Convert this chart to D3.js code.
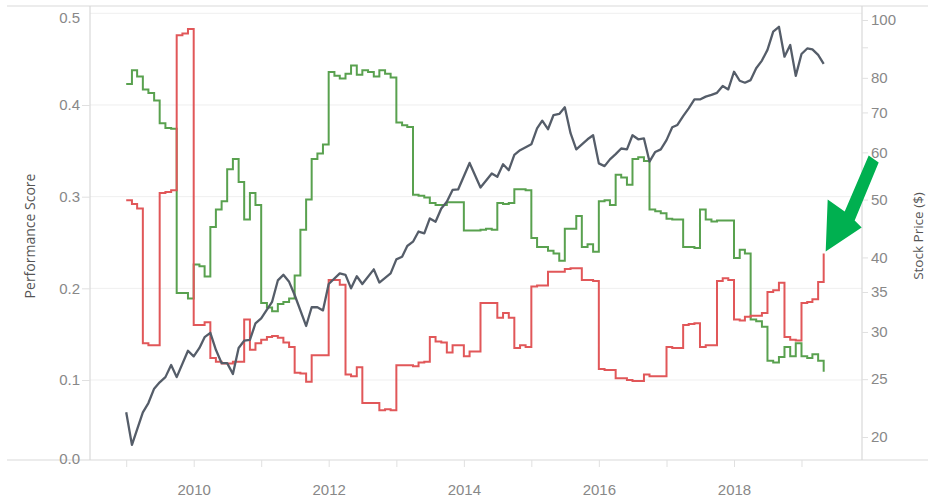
<!DOCTYPE html>
<html>
<head>
<meta charset="utf-8">
<script src="https://cdn.jsdelivr.net/npm/d3@7"></script>
<style>
  body { margin: 0; background: #fff; font-family: "Open Sans", sans-serif; }
</style>
</head>
<body>
<script>

// stock price (right axis, log scale)
const priceDates = ["2009-01","2009-02","2009-04","2009-05","2009-06","2009-07","2009-08","2009-09","2009-10","2009-12",
  "2010-01","2010-02","2010-03","2010-04","2010-05","2010-06","2010-07","2010-08","2010-09","2010-10","2010-11","2010-12",
  "2011-01","2011-02","2011-03","2011-04","2011-05","2011-06","2011-07","2011-09","2011-10","2011-11","2011-12",
  "2012-01","2012-03","2012-04","2012-05","2012-06","2012-07","2012-09","2012-10","2012-12",
  "2013-01","2013-02","2013-03","2013-04","2013-05","2013-06","2013-07","2013-08","2013-09","2013-10","2013-11","2013-12",
  "2014-02","2014-04","2014-06","2014-07","2014-08","2014-09","2014-10","2014-11",
  "2015-01","2015-02","2015-03","2015-04","2015-05","2015-06","2015-07","2015-08","2015-09","2015-11","2015-12",
  "2016-01","2016-02","2016-03","2016-04","2016-05","2016-06","2016-07","2016-08","2016-09","2016-10","2016-11","2016-12",
  "2017-01","2017-02","2017-03","2017-04","2017-05","2017-06","2017-07","2017-08","2017-09","2017-10","2017-11","2017-12",
  "2018-01","2018-02","2018-03","2018-04","2018-05","2018-06","2018-07","2018-08","2018-09","2018-10","2018-11","2018-12",
  "2019-01","2019-02","2019-03","2019-04","2019-05"];
const priceValues = [22.0,19.4,22.0,22.8,24.1,24.7,25.2,26.4,25.2,27.9,
  27.3,28.2,29.4,29.9,28.0,26.6,26.6,25.5,28.2,29.0,29.1,31.0,
  31.6,32.7,33.7,36.6,37.4,36.4,34.6,30.7,33.0,33.0,32.6,
  36.1,37.6,37.4,35.5,37.2,36.1,38.2,36.3,37.6,
  39.7,40.1,41.8,42.5,44.2,43.9,46.5,45.9,48.3,49.6,51.9,52.0,
  57.6,52.4,55.3,54.6,57.3,56.0,59.4,60.5,
  61.9,65.8,67.8,65.6,69.3,69.6,71.4,64.6,60.7,63.1,64.1,
  57.5,56.9,58.4,59.6,60.9,60.7,64.1,63.1,63.3,57.9,60.1,60.7,
  62.9,66.1,66.7,69.0,71.1,73.6,73.6,74.4,74.9,75.5,77.5,76.5,
  81.9,79.1,78.5,79.3,83.0,85.5,89.1,95.6,97.4,86.8,90.8,80.6,
  87.7,89.6,89.3,87.4,84.4];

// monthly performance scores (left axis), Jan 2009 .. May 2019
const scoreStart = "2009-01";
const redScores = [.296,.292,.287,.140,.138,.138,.304,.305,.307,.476,.478,.483,
  .160,.160,.163,.124,.120,.118,.118,.120,.120,.166,.133,.140,
  .144,.147,.148,.146,.141,.136,.108,.107,.098,.127,.127,.127,
  .209,.209,.204,.106,.104,.114,.075,.075,.075,.067,.068,.067,
  .116,.116,.116,.115,.119,.120,.147,.142,.141,.130,.138,.138,
  .126,.131,.131,.184,.184,.184,.168,.173,.168,.135,.138,.136,
  .202,.203,.203,.218,.218,.218,.221,.222,.222,.209,.209,.208,
  .112,.111,.111,.102,.102,.100,.099,.099,.106,.104,.104,.104,
  .136,.135,.135,.160,.161,.162,.136,.138,.138,.208,.211,.209,
  .166,.165,.169,.170,.170,.173,.196,.198,.206,.147,.144,.143,
  .184,.185,.188,.207,.238];
const greenScores = [.423,.438,.431,.417,.413,.405,.380,.375,.374,.195,.195,.189,
  .226,.224,.213,.267,.286,.295,.330,.341,.316,.275,.304,.291,
  .184,.179,.175,.183,.185,.189,.214,.264,.297,.341,.347,.357,
  .436,.432,.429,.434,.443,.433,.438,.436,.431,.438,.434,.430,
  .381,.378,.376,.302,.301,.299,.293,.291,.291,.294,.294,.294,
  .263,.263,.263,.264,.265,.264,.293,.292,.293,.308,.308,.307,
  .255,.245,.245,.241,.238,.230,.265,.265,.279,.245,.248,.240,
  .295,.296,.291,.324,.321,.313,.341,.343,.339,.286,.284,.282,
  .276,.275,.275,.245,.245,.244,.286,.275,.273,.274,.274,.274,
  .233,.242,.238,.166,.164,.158,.121,.119,.125,.136,.126,.140,
  .126,.124,.128,.121,.109];

const leftTicks = [0, 0.1, 0.2, 0.3, 0.4, 0.5];
const rightTicks = [20, 25, 30, 35, 40, 50, 60, 70, 80, 90, 100];
const rightLabels = ["20","25","30","35","40","50","60","70","80","","100"];
const years = [2009, 2010, 2011, 2012, 2013, 2014, 2015, 2016, 2017, 2018, 2019];

const W = 928, H = 500;
const pane = { left: 90, right: 862, top: 6, bottom: 460 };
const parseMonth = d3.timeParse("%Y-%m");

const svg = d3.select("body").append("svg")
    .attr("width", W)
    .attr("height", H)
    .style("font-family", '"Open Sans", sans-serif');

// scales
const x = d3.scaleTime()
    .domain([new Date(2010, 0, 1), new Date(2018, 0, 1)])
    .range([193.7, 734]);
const yL = d3.scaleLinear().domain([0, 0.5]).range([471.7, 13.3]);
const yR = d3.scaleLog().domain([20, 100]).range([437, 20]);

// gridlines
svg.append("g")
  .selectAll("line")
  .data(leftTicks.filter(d => d > 0))
  .join("line")
    .attr("x1", pane.left).attr("x2", pane.right)
    .attr("y1", d => yL(d)).attr("y2", d => yL(d))
    .attr("stroke", "#efefef");

// frame
const frame = svg.append("g").attr("stroke", "#d9d9d9").attr("stroke-width", 1.2);
frame.append("line").attr("x1", 7).attr("x2", W).attr("y1", pane.top).attr("y2", pane.top);
frame.append("line").attr("x1", 7).attr("x2", W).attr("y1", pane.bottom).attr("y2", pane.bottom);
frame.append("line").attr("x1", pane.left).attr("x2", pane.left).attr("y1", pane.top).attr("y2", pane.bottom);
frame.append("line").attr("x1", pane.right).attr("x2", pane.right).attr("y1", pane.top).attr("y2", pane.bottom);

// axes
const leftAxis = svg.append("g")
    .attr("transform", `translate(${pane.left},0)`)
    .call(d3.axisLeft(yL).tickValues(leftTicks).tickSize(8).tickPadding(2).tickFormat(d3.format(".1f")));
leftAxis.selectAll(".tick").filter(d => d === 0 || d === 0.5).select("line").remove();
leftAxis.selectAll(".tick").filter(d => d === 0).select("text").attr("y", -12.7);
leftAxis.selectAll(".tick").filter(d => d === 0.5).select("text").attr("y", 4.7);

const rightAxis = svg.append("g")
    .attr("transform", `translate(${pane.right},0)`)
    .call(d3.axisRight(yR).tickValues(rightTicks).tickSize(6).tickPadding(3)
      .tickFormat((d, i) => rightLabels[i]));

const bottomAxis = svg.append("g")
    .attr("transform", `translate(0,${pane.bottom})`)
    .call(d3.axisBottom(x).tickValues(years.map(y => new Date(y, 0, 1))).tickSize(7).tickPadding(17)
      .tickFormat(d => d.getFullYear() % 2 === 0 ? d.getFullYear() : ""));

[leftAxis, rightAxis, bottomAxis].forEach(a => {
  a.select(".domain").remove();
  a.selectAll(".tick line").attr("stroke", "#e0e0e0");
  a.selectAll(".tick text").attr("fill", "#888").style("font-size", "15px");
});

// axis titles
svg.append("text")
    .attr("transform", "translate(35,236) rotate(-90)")
    .attr("text-anchor", "middle")
    .attr("fill", "#555")
    .style("font-size", "14px")
    .text("Performance Score");
svg.append("text")
    .attr("transform", "translate(923,236) rotate(-90)")
    .attr("text-anchor", "middle")
    .attr("fill", "#555")
    .style("font-size", "13.5px")
    .text("Stock Price ($)");

// marks
svg.append("clipPath").attr("id", "pane")
  .append("rect")
    .attr("x", pane.left).attr("y", pane.top)
    .attr("width", pane.right - pane.left).attr("height", pane.bottom - pane.top);
const plot = svg.append("g").attr("clip-path", "url(#pane)");

const months = d3.timeMonth.range(parseMonth(scoreStart), d3.timeMonth.offset(parseMonth(scoreStart), redScores.length));

const stepLine = d3.line()
    .x((d, i) => x(months[i]))
    .y(d => yL(d))
    .curve(d3.curveStepAfter);

plot.append("path")
    .datum(greenScores)
    .attr("fill", "none")
    .attr("stroke", "#59a14f")
    .attr("stroke-width", 2)
    .attr("d", stepLine);

plot.append("path")
    .datum(redScores)
    .attr("fill", "none")
    .attr("stroke", "#e15759")
    .attr("stroke-width", 2)
    .attr("d", stepLine);

const priceLine = d3.line()
    .x((d, i) => x(parseMonth(priceDates[i])))
    .y(d => yR(d));

plot.append("path")
    .datum(priceValues)
    .attr("fill", "none")
    .attr("stroke", "#555d69")
    .attr("stroke-width", 2.3)
    .attr("stroke-linejoin", "round")
    .attr("d", priceLine);

// annotation arrow pointing at the last red value
const tipX = x(months[months.length - 1]) + 2;
const tipY = yL(redScores[redScores.length - 1]) - 2;
const arrow = [[43, -96], [53, -89], [29, -31], [36, -24], [0, 0], [2, -52], [19, -40]];
svg.append("polygon")
    .attr("points", arrow.map(p => [tipX + p[0], tipY + p[1]].join(",")).join(" "))
    .attr("fill", "#00b050");

</script>
</body>
</html>
